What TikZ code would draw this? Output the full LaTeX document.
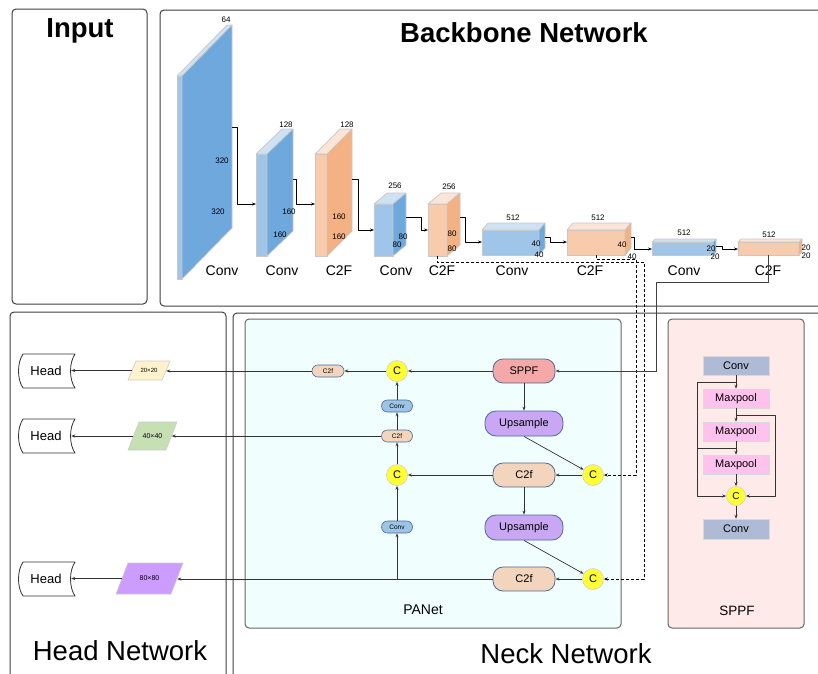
\documentclass[tikz,border=0pt]{standalone}
\usepackage{fontspec}
\setmainfont{Liberation Sans}
\usetikzlibrary{arrows.meta,shapes.geometric,calc}
\definecolor{linec}{HTML}{333333}
\definecolor{panelc}{HTML}{3F3F3F}
\definecolor{edgec}{HTML}{C8C8C8}
\definecolor{bfront}{HTML}{9FC5E8}
\definecolor{bside}{HTML}{6FA8DC}
\definecolor{btop}{HTML}{CFE2F3}
\definecolor{ofront}{HTML}{F8CBAD}
\definecolor{oside}{HTML}{F4B183}
\definecolor{otop}{HTML}{FCE4D6}
\definecolor{panetbg}{HTML}{F1FEFE}
\definecolor{sppfbg}{HTML}{FFEAEA}
\definecolor{nodeb}{HTML}{4A6A9E}
\definecolor{sppfc}{HTML}{F4A9A8}
\definecolor{upc}{HTML}{C9A7F5}
\definecolor{c2fc}{HTML}{F2D5BC}
\definecolor{convc}{HTML}{9DC3E6}
\definecolor{cyel}{HTML}{FFFF33}
\definecolor{cbord}{HTML}{CFCFCF}
\definecolor{spconv}{HTML}{AEBAD6}
\definecolor{mpc}{HTML}{FFC2EE}
\definecolor{pyc}{HTML}{FFF2CC}
\definecolor{pgc}{HTML}{C6E0B4}
\definecolor{ppc}{HTML}{CC9CFF}
\newcommand\myfs[1]{\fontsize{#1}{#1}\selectfont}
% x y w h dx d front side top
\newcommand\blk[9]{%
  \filldraw[fill=#7,draw=edgec,line width=0.7pt] (#1,#2) rectangle ({#1+#3},{#2+#4});
  \filldraw[fill=#9,draw=edgec,line width=0.7pt] (#1,#2) -- ({#1+#5},{#2-#6}) -- ({#1+#3+#5},{#2-#6}) -- ({#1+#3},#2) -- cycle;
  \filldraw[fill=#8,draw=edgec,line width=0.7pt] ({#1+#3},#2) -- ({#1+#3+#5},{#2-#6}) -- ({#1+#3+#5},{#2+#4-#6}) -- ({#1+#3},{#2+#4}) -- cycle;
}
% cx cy W H offset colour
\newcommand\pgram[6]{%
  \filldraw[fill=#6,draw=black!20,line width=0.6pt] ({#1-#3/2},{#2+#4/2}) -- ({#1+#3/2-#5},{#2+#4/2}) -- ({#1+#3/2},{#2-#4/2}) -- ({#1-#3/2+#5},{#2-#4/2}) -- cycle;
}
\newcommand\headshape[1]{%
  \draw[linec,line width=0.8pt,fill=white] ([shift={(-23,-17)}]#1.center)
    .. controls ([shift={(-29,-8)}]#1.center) and ([shift={(-29,8)}]#1.center) .. ([shift={(-23,17)}]#1.center)
    -- ([shift={(29,17)}]#1.center)
    .. controls ([shift={(23,8)}]#1.center) and ([shift={(23,-8)}]#1.center) .. ([shift={(29,-17)}]#1.center)
    -- cycle;
}
\begin{document}
\begin{tikzpicture}[x=1pt,y=-1pt,line join=round,
  arr/.style={-{Stealth[length=4pt,width=3pt]},line width=0.7pt,draw=linec},
  barr/.style={-{Stealth[length=4pt,width=3pt]},line width=0.8pt,draw=black},
  darr/.style={-{Stealth[length=4pt,width=3pt]},line width=0.8pt,draw=black,dash pattern=on 3pt off 2pt},
  panel/.style={draw=panelc,line width=1pt,rounded corners=4pt},
  dim/.style={font=\myfs{8},inner sep=0pt},
  bl/.style={font=\myfs{14},inner sep=0pt},
  rn/.style={draw=nodeb,line width=0.8pt,rounded corners=10pt,font=\myfs{11},inner sep=1pt,minimum height=24pt},
  sn/.style={draw=nodeb,line width=0.6pt,rounded corners=6pt,minimum width=31pt,minimum height=12pt,inner sep=0pt,font=\myfs{6.5}},
  cc/.style={circle,fill=cyel,draw=cbord,line width=0.6pt,minimum size=21pt,inner sep=0pt,font=\myfs{11}},
  sb/.style={draw=black!15,line width=0.5pt,minimum width=66pt,minimum height=19pt,inner sep=0pt,font=\myfs{11}},
  pg/.style={inner sep=0pt},
  hd/.style={minimum width=50pt,minimum height=34pt,inner sep=0pt,font=\myfs{13}}]
\path[use as bounding box] (0,0) rectangle (818,673);
\clip (0,0) rectangle (818,673);
\fill[white] (0,0) rectangle (818,673);

% panels
\draw[panel] (12,9) rectangle (147,304);
\draw[panel] (160,10) rectangle (840,306);
\draw[panel] (10,312) rectangle (226,700);
\draw[panel] (233,313) rectangle (840,700);
\draw[panel,fill=panetbg,draw=black!60] (245,319) rectangle (621,628);
\draw[panel,fill=sppfbg,draw=black!60] (668,319) rectangle (804,628);

\node[font=\bfseries\myfs{27.5},anchor=base] (tin) at (80,37) {Input};
\node[font=\bfseries\myfs{27.5},anchor=base] (tbb) at (524,42) {Backbone Network};
\node[font=\myfs{27.5},anchor=base] (thn) at (120,660) {Head Network};
\node[font=\myfs{27.5},anchor=base] (tnn) at (566,663) {Neck Network};
\node[font=\myfs{14},anchor=base] (tpa) at (423,614) {PANet};
\node[font=\myfs{13.5},anchor=base] (tsp) at (737,615) {SPPF};

% backbone blocks
\blk{177}{76}{5}{203}{50}{51}{bfront}{bside}{btop}
\blk{256}{154}{11}{102}{26}{25}{bfront}{bside}{btop}
\blk{315}{154}{12}{102}{25}{25}{ofront}{oside}{otop}
\blk{374}{204}{19}{52}{13}{11}{bfront}{bside}{btop}
\blk{428}{204}{19}{52}{13}{11}{ofront}{oside}{otop}
\blk{482}{230}{57}{25}{6}{7}{bfront}{bside}{btop}
\blk{567}{230}{58}{25}{6}{7}{ofront}{oside}{otop}
\blk{652}{242}{61}{13}{3}{3}{bfront}{bside}{btop}
\blk{738}{242}{61}{13}{3}{3}{ofront}{oside}{otop}

% block labels
\node[dim] (a1) at (226,20) {64};
\node[dim] (a2) at (222,161) {320};
\node[dim] (a3) at (218,212) {320};
\node[bl] (a4) at (222,271) {Conv};
\node[dim] (b1) at (286,125) {128};
\node[dim] (b2) at (289,212) {160};
\node[dim] (b3) at (280,235) {160};
\node[bl] (b4) at (282,271) {Conv};
\node[dim] (c1) at (347,125) {128};
\node[dim] (c2) at (339,217) {160};
\node[dim] (c3) at (339,237) {160};
\node[bl] (c4) at (339,271) {C2F};
\node[dim] (d1) at (395,186) {256};
\node[dim] (d2) at (403,237) {80};
\node[dim] (d3) at (397,245) {80};
\node[bl] (d4) at (396,271) {Conv};
\node[dim] (e1) at (449,187) {256};
\node[dim] (e2) at (452,234) {80};
\node[dim] (e3) at (452,249) {80};
\node[bl] (e4) at (442,271) {C2F};
\node[dim] (f1) at (513,218) {512};
\node[dim] (f2) at (536,244) {40};
\node[dim] (f3) at (539,255) {40};
\node[bl] (f4) at (512,271) {Conv};
\node[dim] (g1) at (598,218) {512};
\node[dim] (g2) at (622,245) {40};
\node[dim] (g3) at (632,257) {40};
\node[bl] (g4) at (590,271) {C2F};
\node[dim] (k1) at (684,233) {512};
\node[dim] (k2) at (711,249) {20};
\node[dim] (k3) at (715,257) {20};
\node[bl] (k4) at (684,271) {Conv};
\node[dim] (m1) at (769,235) {512};
\node[dim] (m2) at (806,248) {20};
\node[dim] (m3) at (806,256) {20};
\node[bl] (m4) at (768,271) {C2F};

% backbone connectors
\coordinate (o1) at (232,127); \coordinate (i2) at (256,204);
\coordinate (o2) at (293,179); \coordinate (i3) at (315,204);
\coordinate (o3) at (352,179); \coordinate (i4) at (374,230);
\coordinate (o4) at (406,217); \coordinate (i5) at (428,230);
\coordinate (o5) at (460,217); \coordinate (i6) at (482,242);
\coordinate (o6) at (545,237); \coordinate (i7) at (567,242);
\coordinate (o7) at (631,237); \coordinate (i8) at (652,249);
\coordinate (o8) at (716,246); \coordinate (i9) at (738,249);
\draw[barr] (o1) -- ++(5,0) |- (i2);
\draw[barr] (o2) -- ++(3,0) |- (i3);
\draw[barr] (o3) -- ++(6,0) |- (i4);
\draw[barr] (o4) -- ++(15,0) |- (i5);
\draw[barr] (o5) -- ++(5,0) |- (i6);
\draw[barr] (o6) -- ++(5,0) |- (i7);
\draw[barr] (o7) -- ++(3,0) |- (i8);
\draw[barr] (o8) -- ++(6,0) |- (i9);

% PANet nodes
\node[rn,fill=sppfc,minimum width=62pt] (sppf) at (524,371) {SPPF};
\node[rn,fill=upc,minimum width=78pt,minimum height=25pt,rounded corners=11pt] (up1) at (524,423.5) {Upsample};
\node[rn,fill=c2fc,minimum width=62pt] (c2fm) at (524,475) {C2f};
\node[rn,fill=upc,minimum width=78pt,minimum height=25pt,rounded corners=11pt] (up2) at (524,527.5) {Upsample};
\node[rn,fill=c2fc,minimum width=62pt] (c2fb) at (524,579) {C2f};
\node[cc] (cr1) at (593,475) {C};
\node[cc] (cr2) at (593,579) {C};
\node[cc] (cl1) at (397,371) {C};
\node[cc] (cl2) at (397,475) {C};
\node[sn,fill=convc] (sconv1) at (397,406) {Conv};
\node[sn,fill=c2fc] (sc2f) at (397,436) {C2f};
\node[sn,fill=convc] (sconv2) at (397,527) {Conv};
\node[sn,fill=c2fc,minimum width=32pt] (sc2ftl) at (328,371) {C2f};

% head nodes
\node[hd] (h1) at (46,371) {};
\node[hd] (h2) at (46,436) {};
\node[hd] (h3) at (46,579) {};
\headshape{h1}\headshape{h2}\headshape{h3}
\node[hd] (h1t) at (46,371) {Head};
\node[hd] (h2t) at (46,436) {Head};
\node[hd] (h3t) at (46,579) {Head};
\pgram{149}{370.5}{42}{19}{8}{pyc}
\pgram{152.5}{436}{49}{28}{11}{pgc}
\pgram{149.5}{578.5}{67}{31}{12}{ppc}
\node[pg,minimum width=34pt,minimum height=19pt,font=\myfs{6}] (p20) at (149,370.5) {20×20};
\node[pg,minimum width=38pt,minimum height=28pt,font=\myfs{7}] (p40) at (152.5,436) {40×40};
\node[pg,minimum width=55pt,minimum height=31pt,font=\myfs{7}] (p80) at (149.5,578.5) {80×80};

% PANet connectors
\draw[arr] (sppf) -- (cl1);
\draw[arr] (cl1) -- (sc2ftl);
\draw[arr] (sc2ftl) -- (sc2ftl -| p20.east);
\draw[arr] (p20) -- (p20 -| h1.east);
\draw[arr] (sppf) -- (up1);
\draw[arr] (up1.south) -- (cr1);
\draw[arr] (cr1) -- (c2fm);
\draw[arr] (c2fm) -- (cl2);
\draw[arr] (c2fm) -- (up2);
\draw[arr] (up2.south) -- (cr2);
\draw[arr] (cr2) -- (c2fb);
\draw[arr] (c2fb) -- (c2fb -| p80.east);
\draw[arr] (sconv2 |- c2fb) -- (sconv2);
\draw[arr] (sconv2) -- (cl2);
\draw[arr] (cl2) -- (sc2f);
\draw[arr] (sc2f) -- (sconv1);
\draw[arr] (sconv1) -- (cl1);
\draw[arr] (sc2f) -- (p40);
\draw[arr] (p40) -- (h2);
\draw[arr] (p80) -- (p80 -| h3.east);

% dashed and SPPF feed
\coordinate (d5) at (437,256); \coordinate (k5) at (644,262);
\coordinate (d7) at (596,255); \coordinate (k7) at (636,259);
\coordinate (d9) at (768,255); \coordinate (k9) at (656,282);
\draw[darr] (d5) |- (k5) |- (cr2);
\draw[darr] (d7) |- (k7) |- (cr1);
\draw[arr,line width=1pt,draw=black!75] (d9) |- (k9) |- (sppf);

% SPPF module
\node[sb,fill=spconv] (spc1) at (736,365.5) {Conv};
\node[sb,fill=mpc] (mp1) at (736,398.5) {Maxpool};
\node[sb,fill=mpc] (mp2) at (736,431.5) {Maxpool};
\node[sb,fill=mpc] (mp3) at (736,464.5) {Maxpool};
\node[cc,minimum size=19pt,font=\myfs{10}] (spc) at (736,496) {C};
\node[sb,fill=spconv,minimum height=20pt] (spc2) at (736,529) {Conv};
\draw[arr] (spc1) -- (mp1);
\draw[arr] (mp1) -- (mp2);
\draw[arr] (mp2) -- (mp3);
\draw[arr] (mp3) -- (spc);
\draw[arr] (spc) -- (spc2);
\coordinate (s1) at ($(spc1.south)!0.5!(mp1.north)$);
\coordinate (s2) at ($(mp1.south)!0.5!(mp2.north)$);
\coordinate (s3) at ($(mp2.south)!0.5!(mp3.north)$);
\coordinate (sl) at (697,382);
\coordinate (sr) at (775,415);
\draw[arr] (s1) -- (sl) |- (spc);
\draw[line width=0.7pt,draw=linec] (s3) -- (s3 -| sl);
\draw[arr] (s2) -- (sr) |- (spc);
\end{tikzpicture}
\end{document}
